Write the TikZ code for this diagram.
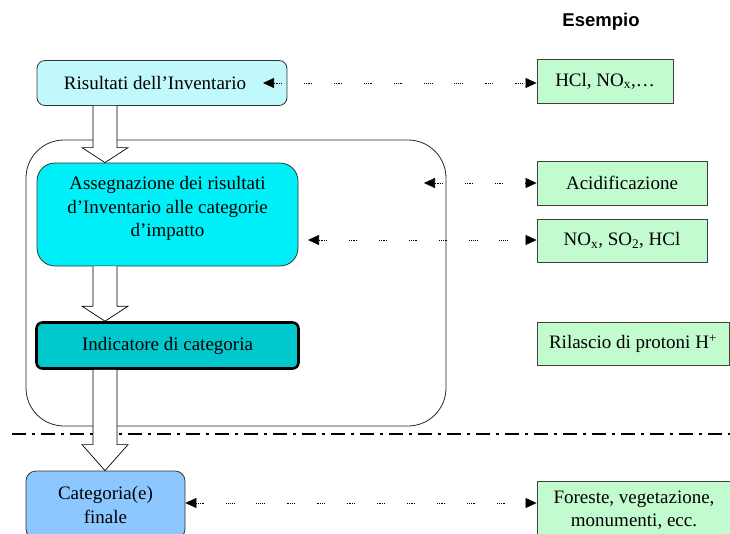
\documentclass[tikz,border=0pt]{standalone}
\usepackage{fontspec}
\setmainfont{Liberation Serif}
\newfontfamily\headfont{Liberation Sans}
\usetikzlibrary{arrows.meta,calc}

\definecolor{invfill}{RGB}{192,248,252}
\definecolor{assfill}{RGB}{0,240,250}
\definecolor{indfill}{RGB}{0,200,204}
\definecolor{finfill}{RGB}{140,200,255}
\definecolor{exfill}{RGB}{194,252,206}

% hollow block arrow along the axis (ax), from the bottom of #1 to the top of #2
\newcommand\hollowarrow[3]{%
  \draw[harrow]
    ($(ax |- #1.south)+(-12,0)$) -- ($(ax |- #2.north)+(-12,-#3)$)
    -- ($(ax |- #2.north)+(-23,-#3)$) -- (ax |- #2.north)
    -- ($(ax |- #2.north)+(23,-#3)$) -- ($(ax |- #2.north)+(12,-#3)$)
    -- ($(ax |- #1.south)+(12,0)$);}

\begin{document}
\begin{tikzpicture}[x=1pt,y=-1pt,
  txt/.style={font=\fontsize{19}{23.5}\selectfont, align=center, inner sep=0pt},
  stage/.style={txt, draw=black!80, line width=0.8pt},
  example/.style={txt, draw=black!75, line width=0.9pt, fill=exfill},
  harrow/.style={draw=black, line width=0.7pt, fill=white},
  link/.style={line width=0.6pt,
    dash pattern=on 0.9pt off 0.9pt on 0.9pt off 0.9pt on 0.9pt off 0.9pt on 0.9pt off 0.9pt on 0.9pt off 22pt,
    {Triangle[length=11pt,width=10pt]}-{Triangle[length=11pt,width=10pt]}},
  sep/.style={line width=1.6pt, dash pattern=on 14pt off 6pt on 3pt off 6pt}]
\useasboundingbox (0,0) rectangle (730,533);
\clip (0,0) rectangle (730,533);

\coordinate (ax) at (105,0);

% heading of the example column
\node[font=\headfont\bfseries\fontsize{18.5}{22}\selectfont] (head) at (601,22) {Esempio};

% grouping frame
\node[draw=black!85, line width=0.8pt, rounded corners=38pt,
      minimum width=420pt, minimum height=286pt] (grp) at (236,283) {};

% separator
\draw[sep] (12,434) -- (730,434);

% stages
\node[stage, fill=invfill, rounded corners=8pt, minimum width=250pt, minimum height=45pt]
  (inv) at (162,83) {Risultati dell’Inventario\hspace{14pt}};
\node[stage, fill=assfill, rounded corners=18pt, minimum width=261pt, minimum height=103pt]
  (ass) at (167.5,214.5) {};
\node[txt] (asstxt) at ($(ass.center)+(0,-6)$)
  {Assegnazione dei risultati\\d’Inventario alle categorie\\d’impatto};
\node[stage, fill=indfill, draw=black, line width=2.6pt, rounded corners=6pt,
      minimum width=262pt, minimum height=46pt]
  (ind) at (167.5,345.5) {Indicatore di categoria};
\node[stage, fill=finfill, rounded corners=10pt, minimum width=159pt, minimum height=68pt]
  (fin) at (105.5,505) {Categoria(e)\\finale};

% examples
\node[example, minimum width=136pt, minimum height=44pt] (ex1) at (605,81) {HCl, NO\textsubscript{x},…};
\node[example, minimum width=170pt, minimum height=44pt] (ex2) at (622,183) {Acidificazione};
\node[example, minimum width=170pt, minimum height=43pt] (ex3) at (622,240.5) {NO\textsubscript{x}, SO\textsubscript{2}, HCl};
\node[example, minimum width=192pt, minimum height=43pt] (ex4) at (633,343.5) {Rilascio di protoni H\textsuperscript{+}};
\node[example, minimum width=194pt, minimum height=58pt] (ex5) at (634,510) {Foreste, vegetazione,\\monumenti, ecc.};

% block arrows between the stages
\hollowarrow{inv}{ass}{15}
\hollowarrow{ass}{ind}{15}
\hollowarrow{ind}{fin}{26}

% links to the examples
\coordinate (l1) at (263,83);
\coordinate (l2) at (424,183);
\coordinate (l3) at (308,240);
\draw[link] (l1) -- (l1 -| ex1.west);
\draw[link] (l2) -- (ex2.west);
\draw[link] (l3) -- (l3 -| ex3.west);
\draw[link] (fin.east |- 0,503) -- (ex5.west |- 0,503);
\end{tikzpicture}
\end{document}
